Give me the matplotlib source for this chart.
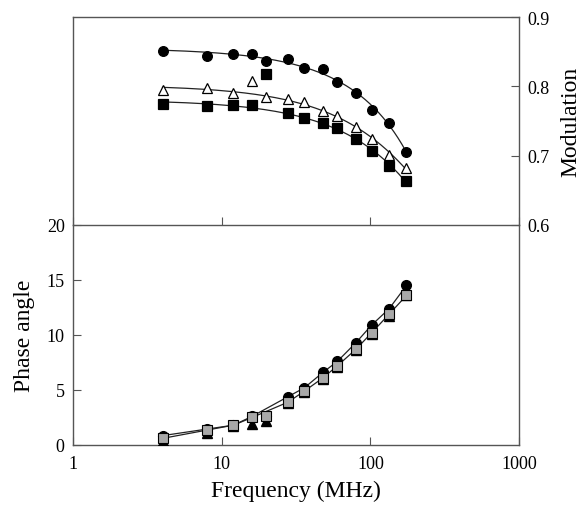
import numpy as np
import matplotlib
matplotlib.use('Agg')
import matplotlib.pyplot as plt

plt.rcParams['font.family'] = ['Liberation Serif', 'DejaVu Serif']

# frequencies (MHz)
freq = [4, 8, 12, 16, 20, 28, 36, 48, 60, 80, 102, 134, 175]

# modulation, upper panel
mod_circle = [0.851, 0.844, 0.846, 0.847, 0.837, 0.839, 0.827, 0.825, 0.806,
              0.790, 0.766, 0.747, 0.705]
mod_triangle = [0.795, 0.797, 0.791, 0.808, 0.784, 0.782, 0.778, 0.765, 0.757,
                0.742, 0.724, 0.701, 0.682]
mod_square = [0.774, 0.771, 0.773, 0.773, 0.818, 0.762, 0.755, 0.747, 0.740,
              0.724, 0.706, 0.685, 0.663]

# phase angle, lower panel
ph_circle = [0.85, 1.45, 1.8, 2.6, 2.6, 4.4, 5.2, 6.6, 7.6, 9.3, 10.9, 12.4, 14.5]
ph_triangle = [0.4, 1.1, 1.7, 1.9, 2.2, 3.8, 4.8, 6.0, 7.1, 8.6, 10.1, 11.7, 13.6]
ph_square = [0.6, 1.36, 1.8, 2.5, 2.6, 3.9, 4.9, 6.1, 7.2, 8.7, 10.2, 11.9, 13.6]

SPINE = '#555555'

fig = plt.figure(figsize=(5.86, 5.06), dpi=100)
ax2 = fig.add_axes([0.1246, 0.1186, 0.7611, 0.4348])
ax1 = fig.add_axes([0.1246, 0.5534, 0.7611, 0.4110])
ax1.patch.set_visible(False)
ax2.patch.set_visible(False)

f = np.array(freq, dtype=float)

# smooth fitted curves through the modulation data (outliers left out)
ff = np.linspace(f[0], f[-1], 200)
fits = [(mod_circle, 'o', 'black', None),
        (mod_triangle, '^', 'white', 3),
        (mod_square, 's', 'black', 4)]
for vals, mk, fc, skip in fits:
    v = np.array(vals)
    keep = np.ones(len(v), bool)
    if skip is not None:
        keep[skip] = False
    p = np.polyfit(f[keep], v[keep], 2)
    ax1.plot(ff, np.polyval(p, ff), '-', color='#222222', lw=0.9, zorder=2)
    ms = 7.5 if mk == '^' else (7 if mk == 'o' else 6.5)
    ax1.plot(f, v, mk, ms=ms, mfc=fc, mec='black', mew=0.9, zorder=3,
             linestyle='none')

ax1.set_xscale('log')
ax1.set_xlim(1, 1000)
ax1.set_ylim(0.6, 0.9)
ax1.yaxis.tick_right()
ax1.yaxis.set_label_position('right')
ax1.set_yticks([0.6, 0.7, 0.8, 0.9])
ax1.set_yticklabels(['0.6', '0.7', '0.8', '0.9'])
ax1.set_ylabel('Modulation', fontsize=17, labelpad=8)
ax1.set_xticks([1, 10, 100, 1000])
ax1.xaxis.set_minor_locator(matplotlib.ticker.NullLocator())
ax1.tick_params(axis='x', direction='in', length=6, labelbottom=False,
                color=SPINE)
ax1.tick_params(axis='y', direction='in', length=6, labelsize=13, pad=6,
                color=SPINE, right=True, left=False)

# lower panel: phase angle, connected points (20 MHz point off the line)
keep = np.ones(len(f), bool)
keep[4] = False
ax2.plot(f[keep], np.array(ph_circle)[keep], '-', color='#222222', lw=0.9, zorder=2)
ax2.plot(f[keep], np.array(ph_square)[keep], '-', color='#222222', lw=0.9, zorder=2)
ax2.plot(f, ph_circle, 'o', ms=7, mfc='black', mec='black', zorder=3)
ax2.plot(f, ph_triangle, '^', ms=7, mfc='black', mec='black', zorder=4)
ax2.plot(f, ph_square, 's', ms=7, mfc='#a8a8a8', mec='black', mew=0.8, zorder=5)

ax2.set_xscale('log')
ax2.set_xlim(1, 1000)
ax2.set_ylim(0, 20)
ax2.set_xticks([1, 10, 100, 1000])
ax2.set_xticklabels(['1', '10', '100', '1000'])
ax2.xaxis.set_minor_locator(matplotlib.ticker.NullLocator())
ax2.set_yticks([0, 5, 10, 15, 20])
ax2.tick_params(axis='both', direction='in', length=6, labelsize=13, pad=6,
                color=SPINE)
ax2.tick_params(axis='x', pad=7)
ax2.set_xlabel('Frequency (MHz)', fontsize=17, labelpad=6)
ax2.set_ylabel('Phase angle', fontsize=17, labelpad=8)

for ax in (ax1, ax2):
    for sp in ax.spines.values():
        sp.set_color(SPINE)
        sp.set_linewidth(1.0)
ax2.spines['top'].set_visible(False)

fig.savefig('out.png', dpi=100, facecolor='white')
